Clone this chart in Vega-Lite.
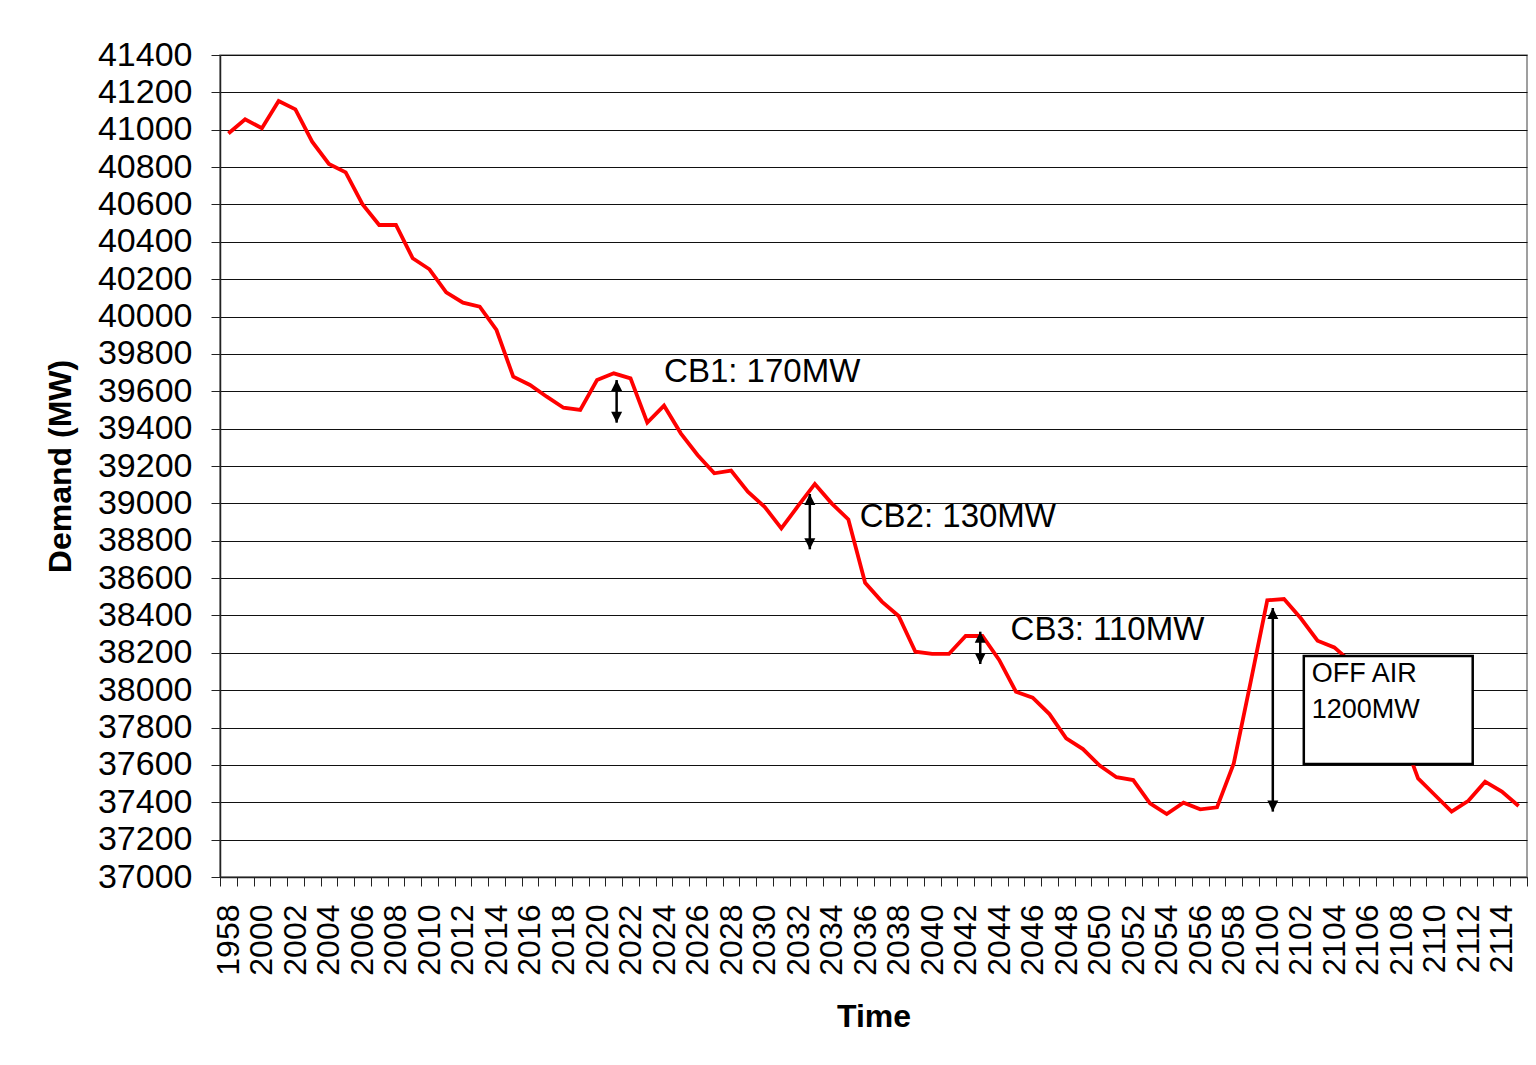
{
  "$schema": "https://vega.github.io/schema/vega-lite/v6.json",
  "width": 1307,
  "height": 822,
  "autosize": {"type": "none"},
  "padding": {"left": 220, "top": 55, "right": 9, "bottom": 188},
  "background": "white",
  "config": {
    "font": "Liberation Sans",
    "view": {"stroke": "#808080", "strokeWidth": 1.5}
  },
  "datasets": {
    "demand": [
      {"time": "1958", "demand": 40980}, {"time": "1959", "demand": 41056},
      {"time": "2000", "demand": 41008}, {"time": "2001", "demand": 41154},
      {"time": "2002", "demand": 41109}, {"time": "2003", "demand": 40936},
      {"time": "2004", "demand": 40817}, {"time": "2005", "demand": 40772},
      {"time": "2006", "demand": 40602}, {"time": "2007", "demand": 40490},
      {"time": "2008", "demand": 40490}, {"time": "2009", "demand": 40312},
      {"time": "2010", "demand": 40253}, {"time": "2011", "demand": 40130},
      {"time": "2012", "demand": 40074}, {"time": "2013", "demand": 40053},
      {"time": "2014", "demand": 39928}, {"time": "2015", "demand": 39678},
      {"time": "2016", "demand": 39634}, {"time": "2017", "demand": 39571},
      {"time": "2018", "demand": 39512}, {"time": "2019", "demand": 39500},
      {"time": "2020", "demand": 39660}, {"time": "2021", "demand": 39696},
      {"time": "2022", "demand": 39669}, {"time": "2023", "demand": 39432},
      {"time": "2024", "demand": 39523}, {"time": "2025", "demand": 39375},
      {"time": "2026", "demand": 39259}, {"time": "2027", "demand": 39161},
      {"time": "2028", "demand": 39175}, {"time": "2029", "demand": 39062},
      {"time": "2030", "demand": 38982}, {"time": "2031", "demand": 38866},
      {"time": "2032", "demand": 38986}, {"time": "2033", "demand": 39104},
      {"time": "2034", "demand": 39000}, {"time": "2035", "demand": 38914},
      {"time": "2036", "demand": 38575}, {"time": "2037", "demand": 38474},
      {"time": "2038", "demand": 38397}, {"time": "2039", "demand": 38206},
      {"time": "2040", "demand": 38194}, {"time": "2041", "demand": 38194},
      {"time": "2042", "demand": 38290}, {"time": "2043", "demand": 38290},
      {"time": "2044", "demand": 38162}, {"time": "2045", "demand": 37992},
      {"time": "2046", "demand": 37960}, {"time": "2047", "demand": 37872},
      {"time": "2048", "demand": 37742}, {"time": "2049", "demand": 37685},
      {"time": "2050", "demand": 37596}, {"time": "2051", "demand": 37534},
      {"time": "2052", "demand": 37519}, {"time": "2053", "demand": 37394},
      {"time": "2054", "demand": 37337}, {"time": "2055", "demand": 37398},
      {"time": "2056", "demand": 37362}, {"time": "2057", "demand": 37373},
      {"time": "2058", "demand": 37608}, {"time": "2059", "demand": 38040},
      {"time": "2100", "demand": 38481}, {"time": "2101", "demand": 38488},
      {"time": "2102", "demand": 38385}, {"time": "2103", "demand": 38265},
      {"time": "2104", "demand": 38229}, {"time": "2105", "demand": 38150},
      {"time": "2106", "demand": 38030}, {"time": "2107", "demand": 37900},
      {"time": "2108", "demand": 37770}, {"time": "2109", "demand": 37528},
      {"time": "2110", "demand": 37439}, {"time": "2111", "demand": 37350},
      {"time": "2112", "demand": 37408}, {"time": "2113", "demand": 37510},
      {"time": "2114", "demand": 37457}, {"time": "2115", "demand": 37380}
    ]
  },
  "layer": [
    {
      "data": {"name": "demand"},
      "mark": {"type": "line", "color": "#ff0000", "strokeWidth": 3.8, "strokeJoin": "miter"},
      "encoding": {
        "x": {
          "field": "time", "type": "ordinal",
          "scale": {"type": "band", "paddingInner": 0, "paddingOuter": 0},
          "axis": {
            "title": "Time", "titleFontSize": 32, "titleFontWeight": "bold", "titleColor": "#000", "titlePadding": 26,
            "labelAngle": -90, "labelFontSize": 32, "labelColor": "#000", "labelPadding": 18,
            "labelOverlap": false,
            "labelExpr": "toNumber(datum.value) % 2 == 0 ? datum.label : ''",
            "tickBand": "extent", "tickSize": 9, "tickColor": "#222", "domainColor": "#222", "domainWidth": 1.5,
            "grid": false
          }
        },
        "y": {
          "field": "demand", "type": "quantitative",
          "scale": {"domain": [37000, 41400], "nice": false, "zero": false},
          "axis": {
            "title": "Demand (MW)", "titleFontSize": 32, "titleFontWeight": "bold", "titleColor": "#000", "titlePadding": 20,
            "values": [37000, 37200, 37400, 37600, 37800, 38000, 38200, 38400, 38600, 38800, 39000, 39200, 39400, 39600, 39800, 40000, 40200, 40400, 40600, 40800, 41000, 41200, 41400],
            "tickCount": 40,
            "format": "d", "labelFontSize": 34, "labelColor": "#000", "labelPadding": 19,
            "labelOverlap": false, "labelBound": false,
            "tickSize": 9, "tickColor": "#222", "domainColor": "#222", "domainWidth": 1.5,
            "grid": true, "gridColor": "#111", "gridWidth": 1.2
          }
        }
      }
    },
    {
      "data": {"values": [{"time": "2021", "top": 39660, "bottom": 39432}]},
      "encoding": {"x": {"field": "time", "type": "ordinal", "bandPosition": 0.67}},
      "layer": [
        {"mark": {"type": "rule", "color": "#000", "strokeWidth": 2.5}, "encoding": {"y": {"field": "top", "type": "quantitative"}, "y2": {"field": "bottom"}}},
        {"mark": {"type": "point", "shape": "M0,0L-0.5,1L0.5,1Z", "filled": true, "color": "#000", "size": 484, "opacity": 1}, "encoding": {"y": {"field": "top", "type": "quantitative"}}},
        {"mark": {"type": "point", "shape": "M0,0L-0.5,-1L0.5,-1Z", "filled": true, "color": "#000", "size": 484, "opacity": 1}, "encoding": {"y": {"field": "bottom", "type": "quantitative"}}}
      ]
    },
    {
      "data": {"values": [{"time": "2033", "top": 39050, "bottom": 38754}]},
      "encoding": {"x": {"field": "time", "type": "ordinal", "bandPosition": 0.2}},
      "layer": [
        {"mark": {"type": "rule", "color": "#000", "strokeWidth": 2.5}, "encoding": {"y": {"field": "top", "type": "quantitative"}, "y2": {"field": "bottom"}}},
        {"mark": {"type": "point", "shape": "M0,0L-0.5,1L0.5,1Z", "filled": true, "color": "#000", "size": 484, "opacity": 1}, "encoding": {"y": {"field": "top", "type": "quantitative"}}},
        {"mark": {"type": "point", "shape": "M0,0L-0.5,-1L0.5,-1Z", "filled": true, "color": "#000", "size": 484, "opacity": 1}, "encoding": {"y": {"field": "bottom", "type": "quantitative"}}}
      ]
    },
    {
      "data": {"values": [{"time": "2043", "top": 38313, "bottom": 38140}]},
      "encoding": {"x": {"field": "time", "type": "ordinal", "bandPosition": 0.37}},
      "layer": [
        {"mark": {"type": "rule", "color": "#000", "strokeWidth": 2.5}, "encoding": {"y": {"field": "top", "type": "quantitative"}, "y2": {"field": "bottom"}}},
        {"mark": {"type": "point", "shape": "M0,0L-0.5,1L0.5,1Z", "filled": true, "color": "#000", "size": 484, "opacity": 1}, "encoding": {"y": {"field": "top", "type": "quantitative"}}},
        {"mark": {"type": "point", "shape": "M0,0L-0.5,-1L0.5,-1Z", "filled": true, "color": "#000", "size": 484, "opacity": 1}, "encoding": {"y": {"field": "bottom", "type": "quantitative"}}}
      ]
    },
    {
      "data": {"values": [{"time": "2100", "top": 38440, "bottom": 37350}]},
      "encoding": {"x": {"field": "time", "type": "ordinal", "bandPosition": 0.83}},
      "layer": [
        {"mark": {"type": "rule", "color": "#000", "strokeWidth": 2.5}, "encoding": {"y": {"field": "top", "type": "quantitative"}, "y2": {"field": "bottom"}}},
        {"mark": {"type": "point", "shape": "M0,0L-0.5,1L0.5,1Z", "filled": true, "color": "#000", "size": 484, "opacity": 1}, "encoding": {"y": {"field": "top", "type": "quantitative"}}},
        {"mark": {"type": "point", "shape": "M0,0L-0.5,-1L0.5,-1Z", "filled": true, "color": "#000", "size": 484, "opacity": 1}, "encoding": {"y": {"field": "bottom", "type": "quantitative"}}}
      ]
    },
    {
      "data": {"values": [{"from": "2102", "to": "2112", "top": 38183, "bottom": 37605}]},
      "mark": {"type": "rect", "fill": "#ffffff", "stroke": "#000", "strokeWidth": 2.5},
      "encoding": {
        "x": {"field": "from", "type": "ordinal", "bandPosition": 0.68},
        "x2": {"field": "to", "bandPosition": 0.76},
        "y": {"field": "top", "type": "quantitative"},
        "y2": {"field": "bottom"}
      }
    },
    {
      "data": {"values": [{"time": "2024", "demand": 39703, "label": "CB1: 170MW"}]},
      "mark": {"type": "text", "align": "left", "baseline": "middle", "fontSize": 33, "color": "#000"},
      "encoding": {
        "x": {"field": "time", "type": "ordinal"},
        "y": {"field": "demand", "type": "quantitative"},
        "text": {"field": "label"}
      }
    },
    {
      "data": {"values": [
        {"time": "2036", "demand": 38927, "label": "CB2: 130MW"},
        {"time": "2045", "demand": 38322, "label": "CB3: 110MW"}
      ]},
      "mark": {"type": "text", "align": "left", "baseline": "middle", "fontSize": 33, "color": "#000"},
      "encoding": {
        "x": {"field": "time", "type": "ordinal", "bandPosition": 0.18},
        "y": {"field": "demand", "type": "quantitative"},
        "text": {"field": "label"}
      }
    },
    {
      "data": {"values": [
        {"time": "2103", "demand": 38087, "label": "OFF AIR"},
        {"time": "2103", "demand": 37894, "label": "1200MW"}
      ]},
      "mark": {"type": "text", "align": "left", "baseline": "middle", "fontSize": 27, "color": "#000"},
      "encoding": {
        "x": {"field": "time", "type": "ordinal", "bandPosition": 0.15},
        "y": {"field": "demand", "type": "quantitative"},
        "text": {"field": "label"}
      }
    }
  ]
}
